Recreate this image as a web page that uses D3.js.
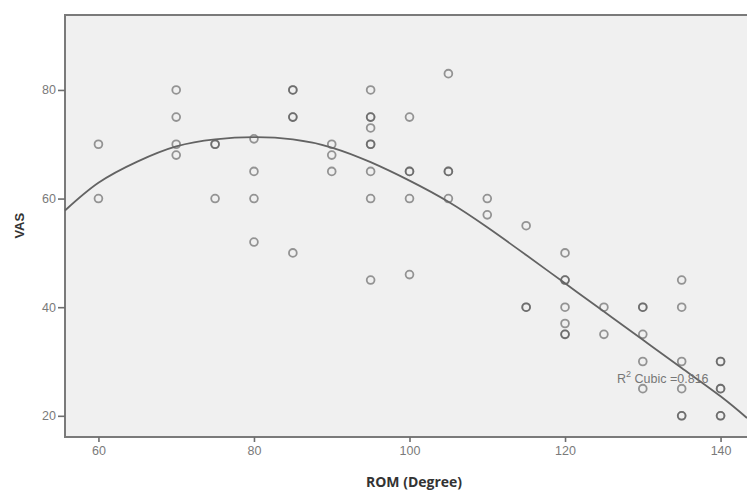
<!DOCTYPE html>
<html>
<head>
<meta charset="utf-8">
<script src="https://cdn.jsdelivr.net/npm/d3@7"></script>
<style>
  body { margin: 0; background: #fff; }
  svg { display: block; }
</style>
</head>
<body>
<div id="visContainer"></div>
<script>
// scatter points (ROM in degrees, VAS); repeated pairs are overlapping cases
const rom = [
  60, 60,
  70, 70, 70, 70,
  75, 75, 75,
  80, 80, 80, 80,
  85, 85, 85, 85, 85,
  90, 90, 90,
  95, 95, 95, 95, 95, 95, 95, 95, 95,
  100, 100, 100, 100, 100,
  105, 105, 105, 105,
  110, 110,
  115, 115, 115,
  120, 120, 120, 120, 120, 120, 120,
  125, 125,
  130, 130, 130, 130, 130,
  135, 135, 135, 135, 135, 135,
  140, 140, 140, 140, 140, 140
];
const vas = [
  70, 60,
  80, 75, 70, 68,
  70, 70, 60,
  71, 65, 60, 52,
  80, 80, 75, 75, 50,
  70, 68, 65,
  80, 75, 75, 73, 70, 70, 65, 60, 45,
  75, 65, 65, 60, 46,
  83, 65, 65, 60,
  60, 57,
  55, 40, 40,
  50, 45, 45, 40, 37, 35, 35,
  40, 35,
  40, 40, 35, 30, 25,
  45, 40, 30, 25, 20, 20,
  30, 30, 25, 25, 20, 20
];

// cubic fit line
const fitRom = [55.7, 60, 65, 70, 75, 80, 85, 90, 95, 100, 105, 110, 115, 120, 125, 130, 135, 140, 143.4];
const fitVas = [57.8, 62.9, 66.8, 69.6, 70.9, 71.3, 70.9, 69.4, 66.7, 63.3, 59.4, 54.7, 49.6, 44.4, 39.2, 34.0, 28.8, 23.6, 19.6];

const xTicks = [60, 80, 100, 120, 140];
const yTicks = [20, 40, 60, 80];
const fitLabel = "Cubic =0.816";

const width = 747;
const height = 492;
const margin = { top: 15, right: 0, bottom: 55, left: 65 };

const svg = d3
  .select("#visContainer")
  .append("svg")
  .attr("width", width)
  .attr("height", height);

const xScale = d3
  .scaleLinear()
  .domain([55.7, 143.4])
  .range([margin.left, width - margin.right]);

const yScale = d3
  .scaleLinear()
  .domain([16.1, 93.8])
  .range([height - margin.bottom, margin.top]);

// plot background + frame (right edge runs off the picture)
svg.append("rect")
  .attr("x", margin.left)
  .attr("y", margin.top)
  .attr("width", width + 20 - margin.left)
  .attr("height", height - margin.bottom - margin.top)
  .attr("fill", "#f0f0f0")
  .attr("stroke", "#7a7a7a")
  .attr("stroke-width", 2);

// axes
const xAxis = svg.append("g")
  .attr("transform", `translate(0, ${height - margin.bottom})`)
  .call(d3.axisBottom(xScale).tickValues(xTicks).tickSize(5).tickPadding(4));

const yAxis = svg.append("g")
  .attr("transform", `translate(${margin.left}, 0)`)
  .call(d3.axisLeft(yScale).tickValues(yTicks).tickSize(7).tickPadding(2));

[xAxis, yAxis].forEach((g) => {
  g.select(".domain").remove();
  g.selectAll(".tick line").attr("stroke", "#6e6e6e").attr("stroke-width", 1.6);
  g.selectAll(".tick text")
    .attr("fill", "#7a7a7a")
    .style("font-family", "'Liberation Sans', Arial, sans-serif")
    .style("font-size", "12.5px");
});

// points
svg.append("g")
  .selectAll("circle")
  .data(rom.map((r, i) => ({ rom: r, vas: vas[i] })))
  .join("circle")
  .attr("cx", (d) => xScale(d.rom))
  .attr("cy", (d) => yScale(d.vas))
  .attr("r", 3.9)
  .attr("fill", "none")
  .attr("stroke", "#555")
  .attr("stroke-opacity", 0.6)
  .attr("stroke-width", 1.8);

// fit line
const line = d3.line()
  .x((d) => xScale(d[0]))
  .y((d) => yScale(d[1]))
  .curve(d3.curveNatural);

svg.append("path")
  .datum(fitRom.map((r, i) => [r, fitVas[i]]))
  .attr("d", line)
  .attr("fill", "none")
  .attr("stroke", "#636363")
  .attr("stroke-width", 1.8);

// R² label
const lbl = svg.append("text")
  .attr("x", 617)
  .attr("y", 383)
  .attr("fill", "#777")
  .style("font-family", "'Liberation Sans', Arial, sans-serif")
  .style("font-size", "12.5px");
lbl.append("tspan").text("R");
lbl.append("tspan").attr("dy", -6).style("font-size", "9px").text("2");
lbl.append("tspan").attr("dy", 6).text(" " + fitLabel);

// axis titles
svg.append("text")
  .attr("transform", `translate(24, ${yScale(55)}) rotate(-90)`)
  .attr("text-anchor", "middle")
  .attr("fill", "#333")
  .style("font-family", "'Liberation Sans Narrow', 'Liberation Sans', Arial, sans-serif")
  .style("font-weight", "bold")
  .style("font-size", "13px")
  .text("VAS");

svg.append("text")
  .attr("x", 414)
  .attr("y", 487)
  .attr("text-anchor", "middle")
  .attr("fill", "#333")
  .style("font-family", "'Open Sans', sans-serif")
  .style("font-weight", "bold")
  .style("font-size", "14px")
  .text("ROM (Degree)");
</script>
</body>
</html>
